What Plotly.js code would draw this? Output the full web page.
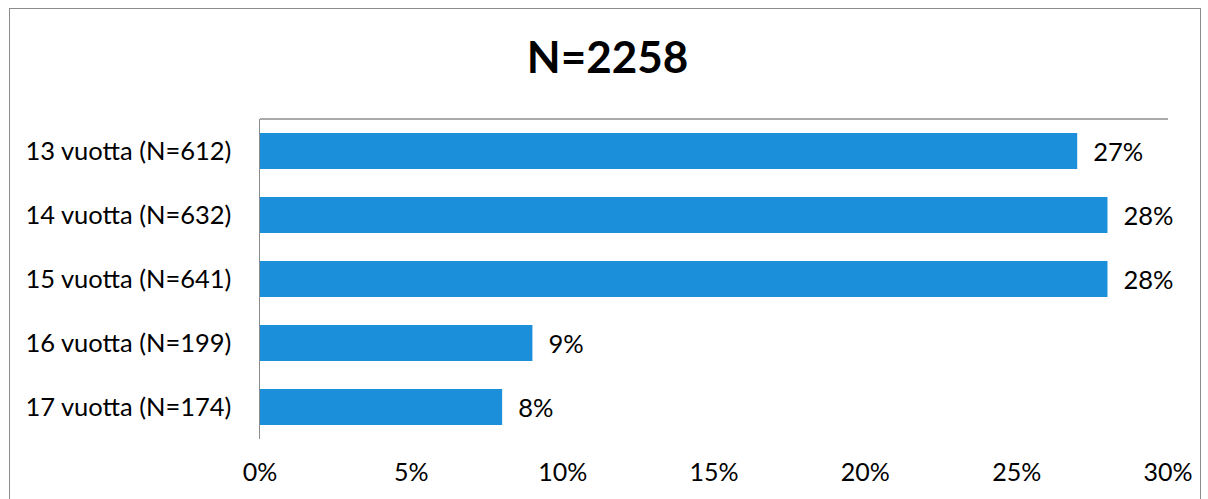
<!DOCTYPE html>
<html>
<head>
<meta charset="utf-8">
<script src="https://cdn.plot.ly/plotly-3.0.1.min.js"></script>
<style>
  body { margin: 0; background: #fff; }
  #frame { position: absolute; left: 9px; top: 8px; width: 1190px; height: 500px; border: 1px solid #8c8c8c; }
  #chart { position: absolute; left: 0; top: 0; width: 1208px; height: 499px; }
</style>
</head>
<body>
<div id="frame"></div>
<div id="chart"></div>
<script>
const categories = ['13 vuotta (N=612)', '14 vuotta (N=632)', '15 vuotta (N=641)', '16 vuotta (N=199)', '17 vuotta (N=174)'];
const shares = [27, 28, 28, 9, 8];
const tickVals = [0, 5, 10, 15, 20, 25, 30];

const font = 'Lato, "Open Sans", sans-serif';

Plotly.newPlot('chart', [{
    type: 'bar',
    orientation: 'h',
    x: shares,
    y: categories,
    marker: { color: '#1b8fd9' },
    text: shares.map(v => '  ' + v + '%'),
    textposition: 'outside',
    textfont: { family: font, size: 25.5, color: '#000' },
    cliponaxis: false,
    hoverinfo: 'none'
}], {
    width: 1208,
    height: 499,
    margin: { l: 260, r: 40, t: 119, b: 60 },
    paper_bgcolor: 'rgba(0,0,0,0)',
    plot_bgcolor: 'rgba(0,0,0,0)',
    bargap: 0.44,
    showlegend: false,
    title: {
        text: '<b>N=2258</b>',
        x: 0.503,
        xref: 'container',
        xanchor: 'center',
        y: 0.884,
        yref: 'container',
        yanchor: 'middle',
        font: { family: font, size: 44, color: '#000' }
    },
    xaxis: {
        range: [0, 30],
        tickvals: tickVals,
        ticktext: tickVals.map(v => v + '%'),
        showgrid: false,
        zeroline: false,
        showline: false,
        ticks: '',
        ticklabelstandoff: 16,
        tickfont: { family: font, size: 25, color: '#000' },
        fixedrange: true
    },
    yaxis: {
        autorange: 'reversed',
        showgrid: false,
        zeroline: false,
        showline: true,
        linecolor: '#8c8c8c',
        linewidth: 1.5,
        ticks: '',
        ticklabelstandoff: 22,
        tickfont: { family: font, size: 25.5, color: '#000' },
        fixedrange: true
    },
    shapes: [{
        type: 'line', xref: 'paper', yref: 'paper',
        x0: 0, x1: 1, y0: 1, y1: 1,
        line: { color: '#8c8c8c', width: 1.5 }
    }]
}, { displayModeBar: false, staticPlot: true });
</script>
</body>
</html>
